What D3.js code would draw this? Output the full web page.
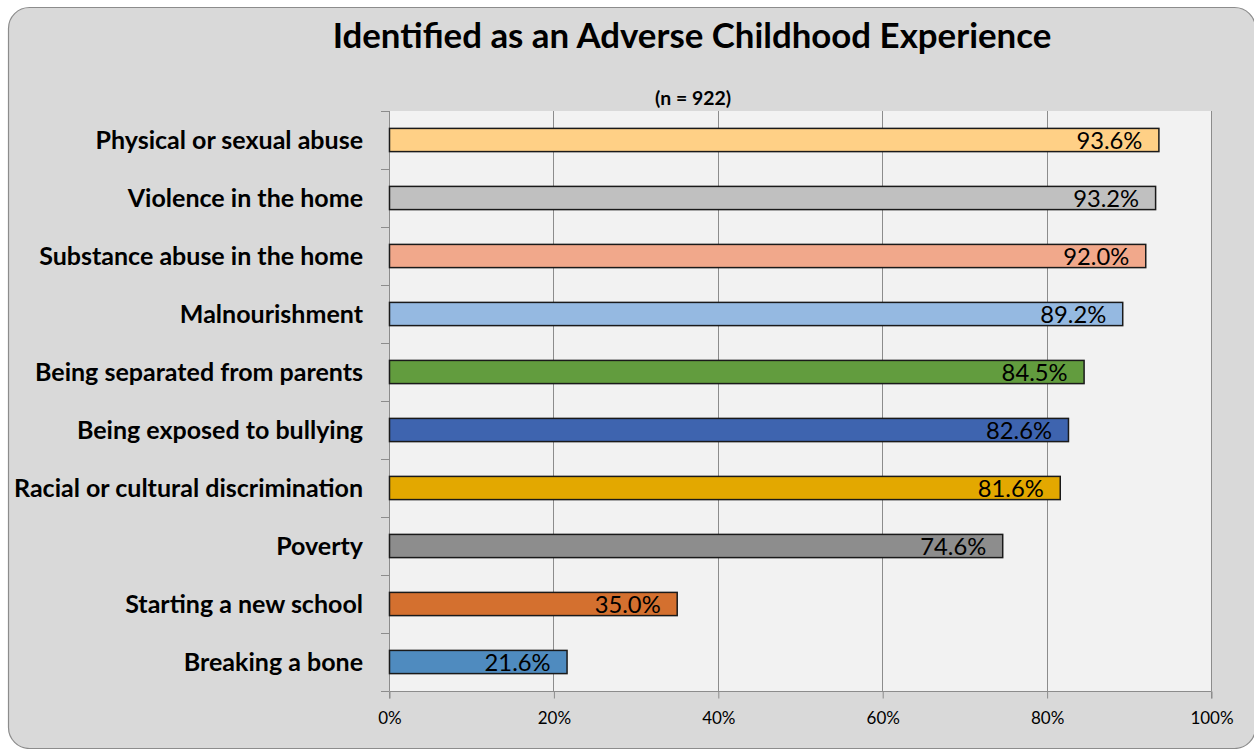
<!DOCTYPE html>
<html>
<head>
<meta charset="utf-8">
<script src="https://cdn.jsdelivr.net/npm/d3@7"></script>
<style>
  html, body { margin: 0; padding: 0; background: #ffffff; }
  svg { display: block; }
  text { font-family: Lato, "Open Sans", sans-serif; fill: #000; }
</style>
</head>
<body>
<svg id="chart" width="1254" height="749"></svg>
<script>
// Share of respondents identifying each item as an Adverse Childhood Experience
const categories = [
  "Physical or sexual abuse",
  "Violence in the home",
  "Substance abuse in the home",
  "Malnourishment",
  "Being separated from parents",
  "Being exposed to bullying",
  "Racial or cultural discrimination",
  "Poverty",
  "Starting a new school",
  "Breaking a bone"
];
const values = [93.6, 93.2, 92.0, 89.2, 84.5, 82.6, 81.6, 74.6, 35.0, 21.6];
const barColors = [
  "#FFD086", "#C0C0C0", "#F1A88B", "#95B9E1", "#629C3E",
  "#3E64AF", "#E3A800", "#8D8D8D", "#D4702F", "#4F8BBF"
];
const xTicks = [0, 20, 40, 60, 80, 100];
const titleText = "Identified as an Adverse Childhood Experience";
const subtitleText = "(n = 922)";

const svg = d3.select("#chart");
const plot = { left: 389, right: 1211, top: 111, bottom: 691 };

// Scale a text element's font size so its rendered width hits a target
function fitWidth(sel, target) {
  const node = sel.node();
  const base = parseFloat(sel.attr("font-size"));
  const w = node.getComputedTextLength();
  sel.attr("font-size", (base * target / w).toFixed(2));
}

// Outer chart area with rounded frame
svg.append("rect")
  .attr("x", 8.5).attr("y", 7.5)
  .attr("width", 1247).attr("height", 741)
  .attr("rx", 21).attr("ry", 21)
  .attr("fill", "#D9D9D9")
  .attr("stroke", "#8C8C8C").attr("stroke-width", 1.2);

// Plot background
svg.append("rect")
  .attr("x", plot.left).attr("y", plot.top)
  .attr("width", plot.right - plot.left).attr("height", plot.bottom - plot.top)
  .attr("fill", "#F2F2F2");

const x = d3.scaleLinear().domain([0, 100]).range([plot.left, plot.right]);
const y = d3.scaleBand().domain(categories).range([plot.top, plot.bottom]).paddingInner(0.6).paddingOuter(0.3);

// Vertical gridlines
svg.append("g").selectAll("line")
  .data(xTicks.slice(1))
  .join("line")
  .attr("x1", d => Math.round(x(d)) + 0.5).attr("x2", d => Math.round(x(d)) + 0.5)
  .attr("y1", plot.top).attr("y2", plot.bottom)
  .attr("stroke", "#8C8C8C").attr("stroke-width", 1);

// Bottom axis
const xAxis = d3.axisBottom(x).tickValues(xTicks).tickFormat(d => d + "%").tickSize(7).tickPadding(13);
const gx = svg.append("g").attr("transform", `translate(0.5,${plot.bottom + 0.5})`).call(xAxis);
gx.select(".domain").attr("stroke", "#8C8C8C").attr("d", `M${plot.left},7V0H${plot.right}V7`);
gx.selectAll(".tick line").attr("stroke", "#8C8C8C");
gx.selectAll(".tick text")
  .attr("font-family", "Lato, 'Open Sans', sans-serif")
  .attr("font-size", 17).attr("fill", "#000");

// Left axis with ticks at category boundaries
const bandStep = (plot.bottom - plot.top) / categories.length;
const gy = svg.append("g");
gy.append("line")
  .attr("x1", plot.left + 0.5).attr("x2", plot.left + 0.5)
  .attr("y1", plot.top).attr("y2", plot.bottom)
  .attr("stroke", "#8C8C8C");
gy.selectAll("line.tk")
  .data(d3.range(categories.length + 1))
  .join("line").attr("class", "tk")
  .attr("x1", plot.left - 8).attr("x2", plot.left)
  .attr("y1", i => Math.round(plot.top + i * bandStep) + 0.5)
  .attr("y2", i => Math.round(plot.top + i * bandStep) + 0.5)
  .attr("stroke", "#8C8C8C");

// Bars
svg.append("g").selectAll("rect")
  .data(categories)
  .join("rect")
  .attr("x", plot.left + 0.5)
  .attr("y", d => y(d))
  .attr("width", (d, i) => x(values[i]) - plot.left)
  .attr("height", y.bandwidth())
  .attr("fill", (d, i) => barColors[i])
  .attr("stroke", "#1a1a1a").attr("stroke-width", 1.5);

// Value labels, inside the bar end
const valLabels = svg.append("g").selectAll("text")
  .data(categories)
  .join("text")
  .attr("x", (d, i) => x(values[i]) - 16)
  .attr("y", d => y(d) + y.bandwidth() / 2)
  .attr("dy", "0.36em")
  .attr("text-anchor", "end")
  .attr("font-size", 20)
  .text((d, i) => values[i].toFixed(1) + "%");

// Category labels
const catLabels = svg.append("g").selectAll("text")
  .data(categories)
  .join("text")
  .attr("x", 363)
  .attr("y", d => y(d) + y.bandwidth() / 2)
  .attr("dy", "0.36em")
  .attr("text-anchor", "end")
  .attr("font-weight", "bold")
  .attr("font-size", 20)
  .text(d => d);

// Title and sample size
const title = svg.append("text")
  .attr("x", 692).attr("y", 48)
  .attr("text-anchor", "middle")
  .attr("font-weight", "bold")
  .attr("font-size", 32)
  .text(titleText);
fitWidth(title, 719);

const subtitle = svg.append("text")
  .attr("x", 693).attr("y", 105)
  .attr("text-anchor", "middle")
  .attr("font-weight", "bold")
  .attr("font-size", 15)
  .text(subtitleText);
fitWidth(subtitle, 76);

// Size category labels from the longest one
const longest = catLabels.filter(d => d === "Racial or cultural discrimination");
const lw = longest.node().getComputedTextLength();
catLabels.attr("font-size", (20 * 349 / lw).toFixed(2));

// Size value labels from a reference label width
const vw = valLabels.filter((d, i) => i === 0).node().getComputedTextLength();
valLabels.attr("font-size", (20 * 66 / vw).toFixed(2));
</script>
</body>
</html>
